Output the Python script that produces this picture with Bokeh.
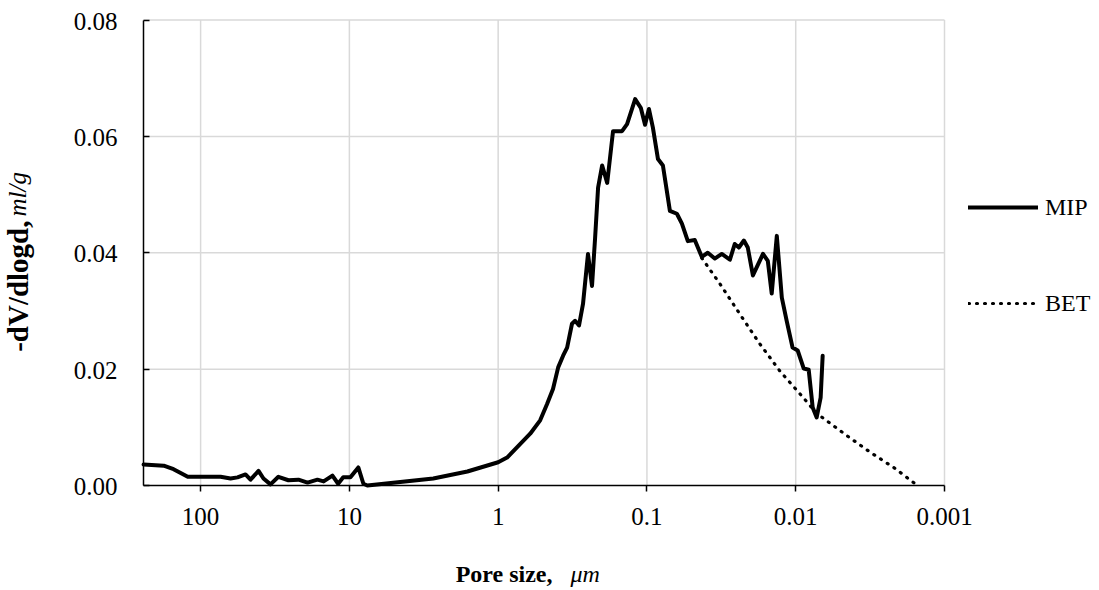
import math
from bokeh.plotting import figure
from bokeh.models import (Range1d, FixedTicker, CustomJSTickFormatter, LogAxis, LinearAxis,
                          Legend, LegendItem, Label)
from bokeh.core.properties import value
from bokeh.embed import file_html
from bokeh.resources import INLINE

# ---- data (pore size in micrometres, -dV/dlogd in ml/g) ----
mip_d = [241.7, 177, 152, 122, 100, 73.4, 62.9, 56.5, 49.9, 46.2, 40.8, 37.8, 33.9, 30.0,
         25.7, 22.0, 19.1, 16.4, 14.9, 13.0, 11.9, 11.0, 9.84, 8.71, 8.05, 7.57, 4.55, 2.73,
         1.61, 1.0, 0.871, 0.745, 0.609, 0.522, 0.469, 0.428, 0.395, 0.366, 0.344, 0.319,
         0.304, 0.286, 0.269, 0.249, 0.234, 0.223, 0.213, 0.200, 0.185, 0.169, 0.147, 0.136,
         0.120, 0.110, 0.103, 0.0970, 0.0912, 0.0843, 0.0781, 0.0701, 0.0629, 0.0582, 0.0531,
         0.0477, 0.0428, 0.0390, 0.0350, 0.0314, 0.0277, 0.0257, 0.0241, 0.0223, 0.0210,
         0.0194, 0.0166, 0.0154, 0.0145, 0.0134, 0.0124, 0.0115, 0.0105, 0.0097, 0.00883,
         0.00818, 0.00769, 0.00723, 0.00680, 0.00659]
mip_v = [0.0036, 0.0034, 0.0028, 0.0015, 0.0015, 0.0015, 0.0012, 0.0014, 0.0019, 0.0010,
         0.0025, 0.0012, 0.0002, 0.0015, 0.0009, 0.0010, 0.0005, 0.0010, 0.0007, 0.0017,
         0.0003, 0.0014, 0.0014, 0.0031, 0.0003, 0.0000, 0.0006, 0.0012, 0.0024, 0.0040,
         0.0048, 0.0066, 0.0089, 0.0112, 0.0140, 0.0166, 0.0203, 0.0223, 0.0237, 0.0278,
         0.0283, 0.0275, 0.0312, 0.0398, 0.0343, 0.0426, 0.0512, 0.0550, 0.0520, 0.0609,
         0.0609, 0.0621, 0.0664, 0.0649, 0.0620, 0.0647, 0.0615, 0.0561, 0.0550, 0.0472,
         0.0467, 0.0450, 0.0420, 0.0422, 0.0393, 0.0400, 0.0390, 0.0398, 0.0388, 0.0415,
         0.0409, 0.0421, 0.0409, 0.0361, 0.0398, 0.0386, 0.0330, 0.0429, 0.0323, 0.0283,
         0.0237, 0.0232, 0.0201, 0.0199, 0.0134, 0.0117, 0.0151, 0.0223]

bet_d = [0.0428, 0.0324, 0.0238, 0.0175, 0.0128, 0.0094, 0.00723, 0.00455, 0.00319, 0.00217, 0.00152]
bet_v = [0.0391, 0.0347, 0.0295, 0.0244, 0.0197, 0.0158, 0.0124, 0.0086, 0.0058, 0.0030, 0.0000]

x_ticks = [100, 10, 1, 0.1, 0.01, 0.001]
x_tick_labels = ["100", "10", "1", "0.1", "0.01", "0.001"]
y_ticks = [0.0, 0.02, 0.04, 0.06, 0.08]
y_tick_labels = ["0.00", "0.02", "0.04", "0.06", "0.08"]
x_axis_start = 242          # largest pore size shown (left edge of the plot area)

FONT = "Liberation Serif"

# ---- layout: the plot frame fills the canvas, the plot area sits inside it ----
W, H = 1099, 590
B_LEFT, B_TOP = 4, 10
AREA_LEFT, AREA_RIGHT, AREA_TOP, AREA_BOTTOM = 143, 944, 19.5, 485
dec_px = (AREA_RIGHT - AREA_LEFT) / (math.log10(x_axis_start) - math.log10(x_ticks[-1]))
unit_px = (AREA_BOTTOM - AREA_TOP) / (y_ticks[-1] - y_ticks[0])
lx_left = math.log10(x_axis_start) + (AREA_LEFT - B_LEFT) / dec_px
lx_right = math.log10(x_axis_start) - (W - AREA_LEFT) / dec_px
y_top = y_ticks[0] + (AREA_BOTTOM - B_TOP) / unit_px
y_bot = y_ticks[0] - (H - AREA_BOTTOM) / unit_px

p = figure(width=W, height=H, x_axis_type="log", x_axis_location=None, y_axis_location=None,
           x_range=Range1d(10 ** lx_left, 10 ** lx_right), y_range=Range1d(y_bot, y_top),
           output_backend="svg", toolbar_location=None,
           min_border_left=B_LEFT, min_border_right=0, min_border_top=B_TOP, min_border_bottom=0)
p.outline_line_color = None
p.background_fill_color = "white"
p.border_fill_color = "white"
p.grid.visible = False

# grid lines of the plot area
GRID = "#d9d9d9"
p.segment(x0=x_ticks, x1=x_ticks, y0=[y_ticks[0]] * len(x_ticks), y1=[y_ticks[-1]] * len(x_ticks),
          line_color=GRID, line_width=1.5)
p.segment(x0=[x_axis_start] * (len(y_ticks) - 1), x1=[x_ticks[-1]] * (len(y_ticks) - 1),
          y0=y_ticks[1:], y1=y_ticks[1:], line_color=GRID, line_width=1.5)

# axes (lines + ticks) placed at the plot area's edges
empty = CustomJSTickFormatter(code="return ''")
xa = LogAxis(ticker=FixedTicker(ticks=x_ticks), formatter=empty, fixed_location=y_ticks[0],
             bounds=(x_ticks[-1], x_axis_start))
ya = LinearAxis(ticker=FixedTicker(ticks=y_ticks), formatter=empty, fixed_location=x_axis_start,
                bounds=(y_ticks[0], y_ticks[-1]))
for ax in (xa, ya):
    ax.axis_line_color = "black"
    ax.axis_line_width = 1.5
    ax.major_tick_line_color = "black"
    ax.major_tick_line_width = 1.5
    ax.major_tick_in = 6
    ax.major_tick_out = 0
    ax.minor_tick_line_color = None
    ax.major_label_text_font_size = "0px"
    ax.major_label_standoff = 0
p.add_layout(xa, "above")
p.add_layout(ya, "left")

# tick labels
p.text(x=x_ticks, y=[y_ticks[0]] * len(x_ticks), text=x_tick_labels, y_offset=31,
       text_font=value(FONT), text_font_size="25px", text_color="black",
       text_align="center", text_baseline="alphabetic")
p.text(x=[x_axis_start] * len(y_ticks), y=y_ticks, text=y_tick_labels, x_offset=-26, y_offset=1,
       text_font=value(FONT), text_font_size="25px", text_color="black",
       text_align="right", text_baseline="middle")

# series
r_mip = p.line(mip_d, mip_v, line_color="black", line_width=4, line_join="round", line_cap="round")
r_bet = p.line(bet_d, bet_v, line_color="black", line_width=3.2, line_dash="1 7", line_cap="round")

legend = Legend(items=[LegendItem(label="MIP", renderers=[r_mip]),
                       LegendItem(label="BET", renderers=[r_bet])],
                location=(964, 272), orientation="vertical")
legend.border_line_color = None
legend.background_fill_alpha = 0
legend.padding = 0
legend.margin = 0
legend.glyph_width = 70
legend.glyph_height = 30
legend.label_height = 30
legend.spacing = 66
legend.label_standoff = 7
legend.label_text_font = FONT
legend.label_text_font_size = "24px"
legend.label_text_color = "black"
p.add_layout(legend, "center")

# axis titles with bold and italic parts (screen units from the frame's bottom-left)
p.add_layout(Label(x=548, y=17, x_units="screen", y_units="screen", text="Pore size,",
                   text_font=FONT, text_font_size="24px", text_font_style="bold",
                   text_align="right", text_baseline="alphabetic", text_color="black"))
p.add_layout(Label(x=566, y=17, x_units="screen", y_units="screen", text="μm",
                   text_font=FONT, text_font_size="24px", text_font_style="italic",
                   text_align="left", text_baseline="alphabetic", text_color="black"))
p.add_layout(Label(x=13, y=370, x_units="screen", y_units="screen", text="-dV/dlogd,",
                   angle=math.pi / 2, text_font=FONT, text_font_size="29px", text_font_style="bold",
                   text_align="right", text_baseline="middle", text_color="black"))
p.add_layout(Label(x=13, y=374, x_units="screen", y_units="screen", text="ml/g",
                   angle=math.pi / 2, text_font=FONT, text_font_size="25px", text_font_style="italic",
                   text_align="left", text_baseline="middle", text_color="black"))

open("out.html", "w").write(file_html(p, INLINE))
